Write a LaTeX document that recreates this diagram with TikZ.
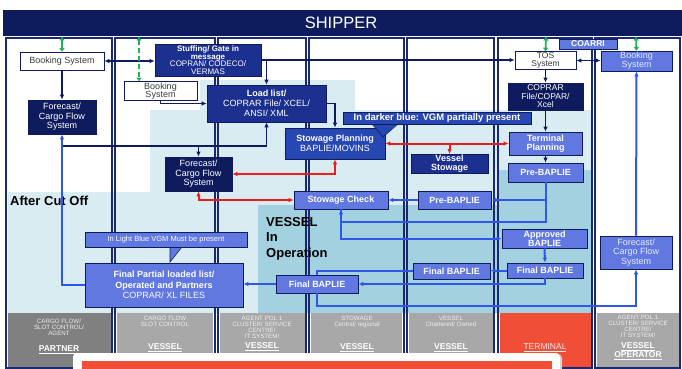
\documentclass[tikz,border=0pt]{standalone}
\usepackage{fontspec}
\setmainfont{Liberation Sans}
\usetikzlibrary{arrows.meta,calc}
\definecolor{navy}{HTML}{0E1C5E}
\definecolor{navyb}{HTML}{1C3090}
\definecolor{stowb}{HTML}{2747B2}
\definecolor{peri}{HTML}{6078E0}
\definecolor{lineblue}{HTML}{2F56E8}
\definecolor{redl}{HTML}{EE1C1C}
\definecolor{greenl}{HTML}{1DB35B}
\definecolor{lightbg}{HTML}{D8ECF2}
\definecolor{tealbg}{HTML}{A3D1E0}
\definecolor{grayhd}{HTML}{A8A8A8}
\definecolor{grayptn}{HTML}{808080}
\definecolor{termred}{HTML}{F04E37}
\definecolor{lanel}{HTML}{1A2A70}
\definecolor{txtgray}{HTML}{3A3A3A}
\definecolor{hdtext}{HTML}{EEEEEE}
\definecolor{paletxt}{HTML}{E6EAFF}
\tikzset{
 bx/.style={draw=navy, line width=0.7pt, text=white, align=center, inner sep=1pt, font=\fontsize{9}{9.5}\selectfont},
 wbx/.style={bx, fill=white, text=txtgray},
 nbx/.style={bx, fill=navy},
 mbx/.style={bx, fill=navyb},
 sbx/.style={bx, fill=stowb},
 pbx/.style={bx, fill=peri},
 bf/.style={font=\fontsize{9}{9.5}\selectfont\bfseries},
 sz/.style 2 args={minimum width=#1pt, minimum height=#2pt},
 navyline/.style={draw=navy, line width=1.5pt},
 blueline/.style={draw=lineblue, line width=2pt},
 redline/.style={draw=redl, line width=2pt},
 greenline/.style={draw=greenl, line width=1.8pt, {Triangle[length=3.5pt,width=5pt]}-{Triangle[length=3.5pt,width=5pt]}},
 laneline/.style={draw=lanel, line width=1.2pt},
 hdtxt/.style={text=hdtext, font=\fontsize{6.2}{6}\selectfont, align=center, inner sep=0pt, anchor=north},
 hdrole/.style={text=white, font=\fontsize{8.5}{8.5}\selectfont\bfseries, align=center, inner sep=0pt},
 lbl/.style={text=black, font=\fontsize{13}{15.5}\selectfont\bfseries, align=left, inner sep=0pt},
}
\begin{document}
\begin{tikzpicture}[x=1pt,y=-1pt,>={Latex[length=5pt,width=4.5pt]}]
\useasboundingbox (0,0) rectangle (682,369);
\fill[white] (0,0) rectangle (682,369);
% background regions
\fill[lightbg] (8,192) -- (150,192) -- (150,110) -- (200,110) -- (200,80) -- (355,80) -- (355,110) -- (592,110) -- (592,313) -- (8,313) -- cycle;
\fill[tealbg] (258,205) -- (498,205) -- (498,170) -- (592,170) -- (592,313) -- (258,313) -- cycle;
% bottom header boxes
\fill[grayptn] (8,313) rectangle (111,367);
\fill[grayhd] (117,313) rectangle (213,367);
\fill[grayhd] (220,313) rectangle (305,367);
\fill[grayhd] (311,313) rectangle (402,367);
\fill[grayhd] (409,313) rectangle (493,367);
\fill[termred] (500,313) rectangle (591,367);
\fill[grayhd] (597,313) rectangle (679,367);
% lanes
\foreach \a/\b in {6/112,115/215,218/306,309/404,407/494,498/592,595/680}
  \draw[laneline] (\a,38) rectangle (\b,368);
% header texts
\node[hdtxt] (hA) at (59,319) {CARGO FLOW/\\SLOT CONTROL/\\AGENT};
\node[hdrole] (rA) at (59,350) {\underline{PARTNER}};
\node[hdtxt] (hB) at (165,316) {CARGO FLOW\\SLOT CONTROL};
\node[hdrole] (rB) at (165,348) {\underline{VESSEL}};
\node[hdtxt] (hC) at (262,316) {AGENT POL 1\\CLUSTER/ SERVICE\\CENTRE/\\IT SYSTEM/};
\node[hdrole] (rC) at (262,347) {\underline{VESSEL}};
\node[hdtxt] (hD) at (357,316) {STOWAGE\\Central/ regional};
\node[hdrole] (rD) at (357,348) {\underline{VESSEL}};
\node[hdtxt] (hE) at (451,316) {VESSEL\\Chartered/ Owned};
\node[hdrole] (rE) at (451,348) {\underline{VESSEL}};
\node[hdrole, font=\fontsize{8.5}{8.5}\selectfont, text=hdtext] (rF) at (545,348) {\underline{TERMINAL}};
\node[hdtxt] (hG) at (638,315) {AGENT POL 1\\CLUSTER/ SERVICE\\CENTRE/\\IT SYSTEM/};
\node[hdrole, font=\fontsize{8.5}{7.8}\selectfont\bfseries] (rG) at (638,351) {\underline{VESSEL}\\\underline{OPERATOR}};
% labels
\node[lbl, anchor=west] (aco) at (10,201) {After Cut Off};
\node[lbl, anchor=north west] (vio) at (266,217) {VESSEL\\In\\Operation};
% nodes
\node[wbx, sz={84}{18}] (bookA) at (62,61) {Booking System};
\node[nbx, sz={68}{34}] (fcA) at (62,117) {Forecast/\\Cargo Flow\\System};
\node[mbx, sz={106}{32}, font=\fontsize{8}{7.6}\selectfont] (stuff) at (208,60) {\textbf{Stuffing/ Gate in}\\\textbf{message}\\COPRAN/ CODECO/\\VERMAS};
\node[wbx, sz={73}{18}, font=\fontsize{9}{8.5}\selectfont] (bookB) at (160.5,91) {Booking\\System};
\node[mbx, sz={119}{37}, font=\fontsize{9}{10}\selectfont] (load) at (266.5,103.5) {\textbf{Load list/}\\COPRAR File/ XCEL/\\ANSI/ XML};
\node[nbx, sz={67}{34}] (fcB) at (198.5,174) {Forecast/\\Cargo Flow\\System};
\node[sbx, sz={100}{31}, font=\fontsize{9}{10}\selectfont] (stowplan) at (335,143.5) {\textbf{Stowage Planning}\\BAPLIE/MOVINS};
\node[mbx, bf, sz={77}{18}, font=\fontsize{9}{8.8}\selectfont\bfseries] (vstow) at (449.5,164) {Vessel\\Stowage};
\node[pbx, bf, sz={94}{18}] (stowcheck) at (341,200) {Stowage Check};
\node[pbx, bf, sz={73}{18}] (preE) at (454.5,200) {Pre-BAPLIE};
\node[wbx, sz={61}{17}, font=\fontsize{8.5}{8}\selectfont] (tos) at (545.5,60.5) {TOS\\System};
\node[pbx, sz={71}{20}, font=\fontsize{9}{9}\selectfont, text=paletxt] (bookG) at (636.5,61) {Booking\\System};
\node[nbx, sz={75}{27}, font=\fontsize{8.5}{8.5}\selectfont] (coprar) at (545.5,96.5) {COPRAR\\File/COPAR/\\Xcel};
\node[pbx, bf, sz={73}{23}] (tplan) at (545.5,143.5) {Terminal\\Planning};
\node[pbx, bf, sz={75}{19}] (preF) at (545.5,172.5) {Pre-BAPLIE};
\node[pbx, bf, sz={85}{19}, font=\fontsize{9}{8.8}\selectfont\bfseries] (appr) at (544.5,238.5) {Approved\\BAPLIE};
\node[pbx, bf, sz={76}{15}] (finF) at (545,270.5) {Final BAPLIE};
\node[pbx, bf, sz={77}{16}] (finE) at (451.5,271) {Final BAPLIE};
\node[pbx, bf, sz={82}{18}] (finC) at (317,284) {Final BAPLIE};
\node[pbx, sz={158}{44}, font=\fontsize{9}{10.5}\selectfont] (finpart) at (164,285) {\textbf{Final Partial loaded list/}\\\textbf{Operated and Partners}\\COPRAR/ XL FILES};
\node[pbx, sz={72}{33}, text=paletxt] (fcG) at (636,252.5) {Forecast/\\Cargo Flow\\System};
% coordinates
\coordinate (gA) at (62,37);
\coordinate (gB) at (139,37);
\coordinate (gF) at (546,37);
\coordinate (gG) at (636,37);
\coordinate (j1) at (62,146);
\coordinate (c1) at (341,222);
\coordinate (c2) at (636,306);
% connectors navy
\draw[navyline,<->] (bookA.east) -- (bookA.east -| stuff.west);
\draw[navyline,->] (bookA.south) -- (fcA.north);
\draw[navyline,->] (stuff.east) -- (stuff.east -| tos.west);
\draw[navyline,->] (stuff.east -| load.north) -- (load.north);
\draw[navyline,->] (bookB.south) |- (load.west);
\draw[navyline,->] (j1) -| (load.south);
\draw[navyline,->] (fcB.north |- j1) -- (fcB.north);
\draw[navyline,->] (load.east) -| (stowplan.north);
\draw[navyline,<->] (tos.east) -- (tos.east -| bookG.west);
\draw[navyline,->] (tos.south) -- (coprar.north);
\draw[navyline,->] (coprar.south) -- (tplan.north);
\draw[navyline,->] (tplan.south) -- (preF.north);
% red
\draw[redline,<->] (stowplan.east) -- (tplan.west);
\draw[redline,->] (vstow.north |- stowplan.east) -- (vstow.north);
\draw[redline,<->] (fcB.east) -| (stowplan.south);
\draw[redline,<->] (fcB.south) |- (stowcheck.west);
% blue
\draw[blueline,<-] (fcA.south) |- (finpart.west);
\draw[blueline,->] (preE.west) -- (stowcheck.east);
\draw[blueline,->] (preF.south) |- (c1) -- (stowcheck.south);
\draw[blueline,->] (preF.south |- preE.east) -- (preE.east);
\draw[blueline,->] (stowcheck.south) |- (appr.west);
\draw[blueline,->] (appr.south) -- (finF.north);
\draw[blueline,->] (finF.west) -- (finF.west -| finE.east);
\draw[blueline,->] (finF.south) |- (finC.east);
\draw[blueline] (finC.north) |- (finE.west);
\draw[blueline,->] (finC.west) -- (finC.west -| finpart.east);
\draw[blueline,->] (finC.south) |- (c2) -- (fcG.south);
\draw[blueline,->] (fcG.north) -- (bookG.south);
% green
\draw[greenline] (gA) -- (bookA.north);
\draw[greenline, dash pattern=on 5pt off 3pt] (gB) -- (gB |- bookB.north);
\draw[greenline] (gF) -- (tos.north);
\draw[greenline] (gG) -- (bookG.north);
% COARRI
\node[pbx, bf, sz={58}{10}, font=\fontsize{8.5}{8.5}\selectfont\bfseries] (coarri) at (588,44) {COARRI};
% callouts
\fill[stowb] (372,123.5) -- (398,123.5) -- (383,137) -- cycle;
\draw[navy, line width=0.6pt] (372,124) -- (383,137) -- (398,124);
\node[sbx, sz={188}{12}, font=\fontsize{9.5}{9.5}\selectfont\bfseries] (vgm) at (437,118) {In darker blue: VGM partially present};
\fill[peri] (170,246.5) -- (182,246.5) -- (170,262) -- cycle;
\draw[navy, line width=0.6pt] (170,247) -- (170,262) -- (182,247);
\node[pbx, sz={162}{15}, font=\fontsize{7.5}{8}\selectfont] (lbc) at (166,239.5) {In Light Blue VGM Must be present};
% bottom overlay box
\fill[black!18, rounded corners=4pt] (75,354) rectangle (562,380);
\fill[white, rounded corners=4pt] (73,353) rectangle (560,380);
\fill[termred] (82,361) rectangle (552,369);
% shipper bar
\fill[navy] (3,10) rectangle (682,36);
\node[text=white, font=\fontsize{16.5}{16.5}\selectfont] (ship) at (341,23) {SHIPPER};
\end{tikzpicture}
\end{document}
